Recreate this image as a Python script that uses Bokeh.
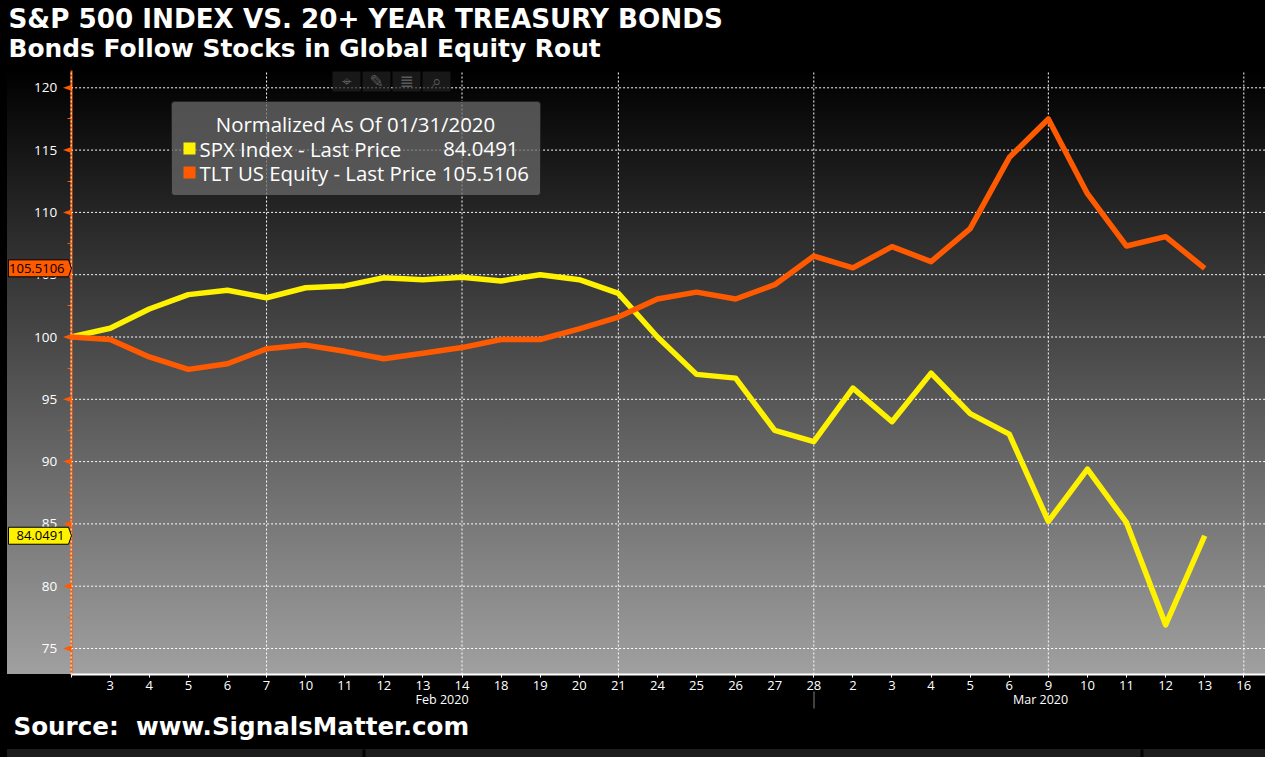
from bokeh.plotting import figure
from bokeh.models import (Range1d, LinearAxis, FixedTicker, Label, BoxAnnotation, PolyAnnotation)
from bokeh.embed import file_html
from bokeh.resources import INLINE

days = ["", "3", "4", "5", "6", "7", "10", "11", "12", "13", "14", "18", "19", "20", "21", "24", "25", "26", "27", "28",
        "2", "3", "4", "5", "6", "9", "10", "11", "12", "13", "16"]
spx = [100, 100.7, 102.25, 103.4, 103.75, 103.15, 103.95, 104.1, 104.75, 104.6, 104.8, 104.5, 105.0, 104.6, 103.5,
       100.0, 97.0, 96.7, 92.5, 91.6, 95.9, 93.2, 97.1, 93.85, 92.2, 85.2, 89.4, 85.1, 76.9, 84.0491]
tlt = [100, 99.8, 98.4, 97.4, 97.85, 99.05, 99.35, 98.85, 98.25, 98.7, 99.15, 99.8, 99.8, 100.65, 101.6,
       103.05, 103.6, 103.05, 104.2, 106.5, 105.55, 107.25, 106.05, 108.7, 114.4, 117.5, 111.5, 107.3, 108.05, 105.5106]
y_major = [75, 80, 85, 90, 95, 100, 105, 110, 115, 120]
y_minor = [77.5, 82.5, 87.5, 92.5, 97.5, 102.5, 107.5, 112.5, 117.5]
x_grid_days = [0, 5, 10, 14, 19, 25, 30]
months = {9.49: "Feb 2020", 24.8: "Mar 2020"}
title1 = "S&P 500 INDEX VS. 20+ YEAR TREASURY BONDS"
title2 = "Bonds Follow Stocks in Global Equity Rout"
source = "Source: \u00a0www.SignalsMatter.com"

YEL, ORG = "#fff200", "#ff5a00"
UI = "Open Sans"
W, H = 1265, 757
PX, PY = 39.09, 12.46
X0, Y100 = 70.6, 336.5
TOP, BOT, RIGHT = 70, 674, 1265


def dx(rx):
    return (rx - X0) / PX


def dy(ry):
    return 100 - (ry - Y100) / PY


def ry(v):
    return Y100 - (v - 100) * PY


p = figure(width=W, height=H, output_backend="svg", toolbar_location=None,
           x_range=Range1d(dx(0), dx(W)), y_range=Range1d(dy(H), dy(0)),
           min_border_left=0, min_border_right=0, min_border_top=0, min_border_bottom=0,
           x_axis_type=None, y_axis_type=None, background_fill_alpha=0, border_fill_alpha=0, outline_line_alpha=0)
p.styles = {"background": "linear-gradient(to right, #000 0px, #000 7px, transparent 7px), "
                          "linear-gradient(to bottom, #000 0px, #000 70px, #a0a0a0 674px, #000 674px, #000 749px, "
                          "#1c1c1c 749px, #1c1c1c 757px)"}

xa = LinearAxis(ticker=FixedTicker(ticks=list(range(len(days)))),
                major_label_overrides={i: d for i, d in enumerate(days)},
                fixed_location=dy(BOT), bounds=(0, dx(RIGHT)))
xa.axis_line_color = "#ffffff"
xa.axis_line_width = 2
xa.major_tick_line_color = "#ffffff"
xa.major_tick_in = 0
xa.major_tick_out = 3
xa.minor_tick_out = 0
xa.major_label_text_color = "#ffffff"
xa.major_label_text_font = UI
xa.major_label_text_font_size = "13px"
xa.major_label_standoff = 3
p.add_layout(xa, "below")

ma = LinearAxis(ticker=FixedTicker(ticks=list(months)), major_label_overrides=months, fixed_location=dy(690))
ma.axis_line_alpha = 0
ma.major_tick_line_alpha = 0
ma.major_tick_in = 0
ma.major_tick_out = 0
ma.minor_tick_out = 0
ma.major_label_text_color = "#ffffff"
ma.major_label_text_font = UI
ma.major_label_text_font_size = "12.5px"
ma.major_label_standoff = 0
p.add_layout(ma, "below")

ya = LinearAxis(ticker=FixedTicker(ticks=y_major, minor_ticks=y_minor), fixed_location=0, bounds=(dy(BOT), dy(TOP)),
                level="underlay")
ya.axis_line_color = ORG
ya.axis_line_width = 2
ya.major_tick_in = 0
ya.major_tick_out = 0
ya.minor_tick_in = 0
ya.minor_tick_out = 4
ya.minor_tick_line_color = ORG
ya.major_label_text_color = "#ffffff"
ya.major_label_text_font = UI
ya.major_label_text_font_size = "13.5px"
ya.major_label_standoff = 10
p.add_layout(ya, "left")

# grid lines
p.segment(x_grid_days, [dy(BOT)] * len(x_grid_days), x_grid_days, [dy(TOP)] * len(x_grid_days),
          line_color="#ffffff", line_dash="2 2", line_width=1)
p.segment([0] * len(y_major), y_major, [dx(RIGHT)] * len(y_major), y_major,
          line_color="#ffffff", line_dash="2 2", line_width=1)


def box(l, r, t, b, color, alpha=1.0, level="annotation", **kw):
    kw.setdefault("line_alpha", 0)
    p.add_layout(BoxAnnotation(left=l, right=r, top=t, bottom=b, left_units="canvas", right_units="canvas",
                               top_units="canvas", bottom_units="canvas", fill_color=color, fill_alpha=alpha,
                               level=level, **kw))


def txt(x, y, s, align="left", color="#ffffff", size="20.4px", font=UI, style="normal", level="annotation"):
    p.add_layout(Label(x=x, y=y, x_units="canvas", y_units="canvas", text=s, text_color=color, text_align=align,
                       text_baseline="middle", text_font=font, text_font_size=size, text_font_style=style,
                       level=level))


def poly(xs, ys, color, level="annotation", **kw):
    kw.setdefault("line_alpha", 0)
    p.add_layout(PolyAnnotation(xs=xs, ys=ys, xs_units="canvas", ys_units="canvas", fill_color=color, fill_alpha=1,
                                level=level, **kw))


xs = list(range(len(spx)))
p.line(xs, spx, line_color=YEL, line_width=5.5, line_join="round")
p.line(xs, tlt, line_color=ORG, line_width=5.5, line_join="round")

# toolbar tiles at the top of the chart
for a, b, icon in zip([332, 362, 392, 422], [360, 390, 420, 450], ["\u2316", "\u270e", "\u2263", "\u2315"]):
    box(a, b, 71, 91, "#222222", 0.7)
    txt((a + b) / 2, 80.5, icon, "center", "#5a5a5a", "17px", "DejaVu Sans")

# legend panel
box(171, 540, 101, 195, "#6a6a6a", 0.75, line_color="#222222", line_alpha=1, line_width=1, border_radius=3)
txt(355, 123.5, "Normalized As Of 01/31/2020", "center")
txt(199, 148, "SPX Index - Last Price")
txt(518, 148, "84.0491", "right")
txt(199, 172, "TLT US Equity - Last Price 105.5106")
for top, col in [(142, YEL), (166, ORG)]:
    box(183, 195, top, top + 12, col)

# tick arrows on the value axis
for v in y_major:
    poly([62.5, 71, 71], [ry(v), ry(v) - 3, ry(v) + 3], ORG)

# last-value tags
for v, col, s in [(tlt[-1], ORG, "105.5106"), (spx[-1], YEL, "84.0491")]:
    y = ry(v)
    poly([8, 68, 71, 68, 8], [y - 8.5, y - 8.5, y, y + 8.5, y + 8.5], col, line_color="#000000", line_alpha=1, line_width=1)
    txt(64, y, s, "right", "#000000", "13px")

# separator below the 28 Feb tick
box(813, 814, 691, 708, "#808080")

# footer bar gaps
for a, b in [(362, 365), (1140, 1143)]:
    box(a, b, 749, 757, "#000000")

txt(8, 18, title1, size="26.2px", font="DejaVu Sans", style="bold")
txt(8, 48, title2, size="24.9px", font="DejaVu Sans", style="bold")
txt(13, 726, source, size="24.6px", font="DejaVu Sans", style="bold")

html = file_html(p, INLINE)
html = html.replace("<head>", "<head><style>html,body{background:#000000;}</style>", 1)
open("out.html", "w").write(html)
